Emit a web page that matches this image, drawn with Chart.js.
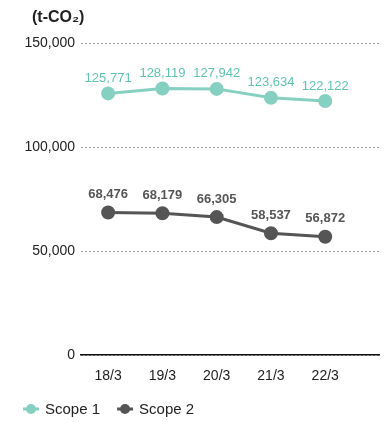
<!DOCTYPE html>
<html>
<head>
<meta charset="utf-8">
<script src="https://cdn.jsdelivr.net/npm/chart.js@4/dist/chart.umd.min.js"></script>
<style>
  html, body { margin: 0; padding: 0; background: #fff; }
  #wrap { width: 388px; height: 422px; position: relative; }
</style>
</head>
<body>
<div id="wrap"><canvas id="emissionChart"></canvas></div>
<script>
const categories = ["18/3", "19/3", "20/3", "21/3", "22/3"];
const scope1 = [125771, 128119, 127942, 123634, 122122];
const scope2 = [68476, 68179, 66305, 58537, 56872];
const yTicks = [0, 50000, 100000, 150000];
const unitLabel = "(t-CO\u2082)";

const teal = "#86d0c2";
const tealText = "#5fc3b2";
const gray = "#555555";
const fontFamily = "Arial, 'Liberation Sans', sans-serif";

const fmt = (v) => v.toLocaleString("en-US");
const toPoints = (arr) => arr.map((v, i) => ({ x: i, y: v }));

// value labels above each point
const valueLabels = {
    id: "valueLabels",
    afterDatasetsDraw(chart) {
        const ctx = chart.ctx;
        chart.data.datasets.forEach((ds, i) => {
            const meta = chart.getDatasetMeta(i);
            ctx.save();
            ctx.fillStyle = ds.labelColor;
            ctx.font = ds.labelFont;
            ctx.textAlign = "center";
            ctx.textBaseline = "middle";
            meta.data.forEach((pt, j) => {
                ctx.fillText(fmt(ds.data[j].y), pt.x, pt.y - ds.labelOffset);
            });
            ctx.restore();
        });
    },
};

// unit title and bottom legend
const extras = {
    id: "extras",
    afterDraw(chart) {
        const ctx = chart.ctx;
        ctx.save();
        ctx.fillStyle = "#222";
        ctx.font = "bold 16px " + fontFamily;
        ctx.textBaseline = "middle";
        ctx.textAlign = "left";
        ctx.fillText(unitLabel, 32, 18);

        let x = 23;
        const y = 409;
        ctx.font = "15px " + fontFamily;
        chart.data.datasets.forEach((ds) => {
            ctx.strokeStyle = ds.borderColor;
            ctx.lineWidth = 3;
            ctx.beginPath();
            ctx.moveTo(x, y);
            ctx.lineTo(x + 16, y);
            ctx.stroke();
            ctx.fillStyle = ds.borderColor;
            ctx.beginPath();
            ctx.arc(x + 8, y, 5, 0, Math.PI * 2);
            ctx.fill();
            ctx.fillStyle = "#222";
            ctx.fillText(ds.label, x + 22, y + 1);
            x += 22 + ctx.measureText(ds.label).width + 17;
        });
        ctx.restore();
    },
};

new Chart(document.getElementById("emissionChart"), {
    type: "line",
    data: {
        datasets: [
            {
                label: "Scope 1",
                data: toPoints(scope1),
                borderColor: teal,
                backgroundColor: teal,
                borderWidth: 3,
                pointRadius: 5.5,
                pointHoverRadius: 5.5,
                labelColor: tealText,
                labelFont: "13px " + fontFamily,
                labelOffset: 15,
            },
            {
                label: "Scope 2",
                data: toPoints(scope2),
                borderColor: gray,
                backgroundColor: gray,
                borderWidth: 3,
                pointRadius: 5.5,
                pointHoverRadius: 5.5,
                labelColor: gray,
                labelFont: "bold 13px " + fontFamily,
                labelOffset: 18,
            },
        ],
    },
    options: {
        responsive: true,
        maintainAspectRatio: false,
        animation: false,
        layout: { padding: { top: 43, right: 0, bottom: 37, left: 0 } },
        scales: {
            x: {
                type: "linear",
                min: -0.5,
                max: 5,
                afterBuildTicks: (scale) => {
                    scale.ticks = categories.map((c, i) => ({ value: i }));
                },
                afterFit: (scale) => { scale.height = 30; },
                ticks: {
                    color: "#222",
                    font: { size: 14, family: fontFamily },
                    padding: 13,
                    callback: (v) => categories[v],
                },
                grid: { display: false, drawTicks: false },
                border: { display: true, color: "#111", width: 1.5 },
            },
            y: {
                min: 0,
                max: 150000,
                afterBuildTicks: (scale) => {
                    scale.ticks = yTicks.map((v) => ({ value: v }));
                },
                afterFit: (scale) => { scale.width = 81; },
                ticks: {
                    color: "#222",
                    font: { size: 14, family: fontFamily },
                    padding: 6,
                    callback: (v) => fmt(v),
                },
                grid: {
                    color: "#a0a0a0",
                    lineWidth: 1,
                    drawTicks: false,
                },
                border: { display: false, dash: [2, 2] },
            },
        },
        plugins: {
            legend: { display: false },
            tooltip: { enabled: false },
        },
    },
    plugins: [valueLabels, extras],
});
</script>
</body>
</html>
